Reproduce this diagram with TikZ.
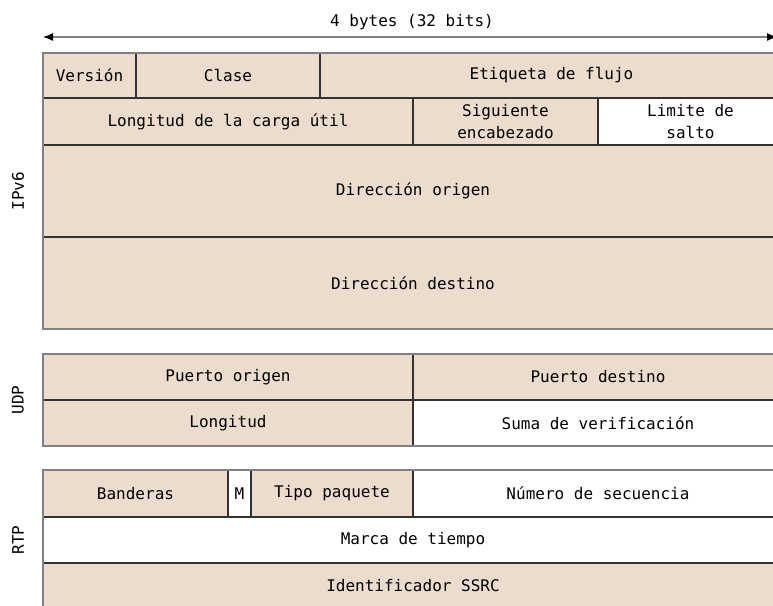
\documentclass[tikz,border=0pt]{standalone}
\usepackage{fontspec}
\setmonofont{DejaVu Sans Mono}
\usetikzlibrary{arrows.meta}
\definecolor{beige}{HTML}{EBDCCD}
\definecolor{inner}{HTML}{333333}
\definecolor{outer}{HTML}{808080}
\definecolor{txt}{HTML}{000000}
\tikzset{
  fieldbox/.style={rectangle, draw=inner, line width=1.5pt, inner sep=0pt, outer sep=0pt,
    text=txt, font=\ttfamily\fontsize{16}{22}\selectfont, align=center},
  sidelabel/.style={rotate=90, text=txt, font=\ttfamily\fontsize{16}{20}\selectfont},
  frame/.style={draw=outer, line width=1.5pt},
  widtharrow/.style={draw=outer, line width=1.2pt, {Latex[black,length=10pt,width=8pt]}-{Latex[black,length=10pt,width=8pt]}}
}
\newcommand\fld[7]{%
  \node[fieldbox, fill=#6, minimum width={(#4)-(#2)}, minimum height={(#5)-(#3)}]
    (#1) at ({((#2)+(#4))/2},{((#3)+(#5))/2}) {#7};}
\begin{document}
\begin{tikzpicture}[x=1pt,y=-1pt]
\useasboundingbox (0,0) rectangle (773,605);
\clip (0,0) rectangle (773,605);
% width arrow
\coordinate (aL) at (43,37);
\coordinate (aR) at (777,37);
\draw[widtharrow] (aL) -- (aR);
\node[text=txt, font=\ttfamily\fontsize{16}{20}\selectfont] (wlabel) at (412,22) {4 bytes (32 bits)};
% IPv6
\fld{ver}{43}{53}{136}{98}{beige}{Versión}
\fld{cls}{136}{53}{320}{98}{beige}{Clase}
\fld{flow}{320}{53}{783}{98}{beige}{Etiqueta de flujo}
\fld{plen}{43}{98}{413}{145}{beige}{Longitud de la carga útil}
\fld{nxt}{413}{98}{598}{145}{beige}{Siguiente\\encabezado}
\fld{hop}{598}{98}{783}{145}{white}{Limite de\\salto}
\fld{src}{43}{145}{783}{237}{beige}{Dirección origen}
\fld{dst}{43}{237}{783}{329}{beige}{Dirección destino}
\draw[frame] (43,53) rectangle (783,329);
\node[sidelabel] (lipv6) at (18,191) {IPv6};
% UDP
\fld{sport}{43}{354}{413}{400}{beige}{Puerto origen}
\fld{dport}{413}{354}{783}{400}{beige}{Puerto destino}
\fld{ulen}{43}{400}{413}{446}{beige}{Longitud}
\fld{csum}{413}{400}{783}{446}{white}{Suma de verificación}
\draw[frame] (43,354) rectangle (783,446);
\node[sidelabel] (ludp) at (18,400) {UDP};
% RTP
\fld{flags}{43}{470}{228}{517}{beige}{Banderas}
\fld{mark}{228}{470}{251}{517}{white}{M}
\fld{ptype}{251}{470}{413}{517}{beige}{Tipo paquete}
\fld{seq}{413}{470}{783}{517}{white}{Número de secuencia}
\fld{ts}{43}{517}{783}{563}{white}{Marca de tiempo}
\fld{ssrc}{43}{563}{783}{609}{beige}{Identificador SSRC}
\draw[frame] (43,470) rectangle (783,609);
\node[sidelabel] (lrtp) at (18,540) {RTP};
\end{tikzpicture}
\end{document}
